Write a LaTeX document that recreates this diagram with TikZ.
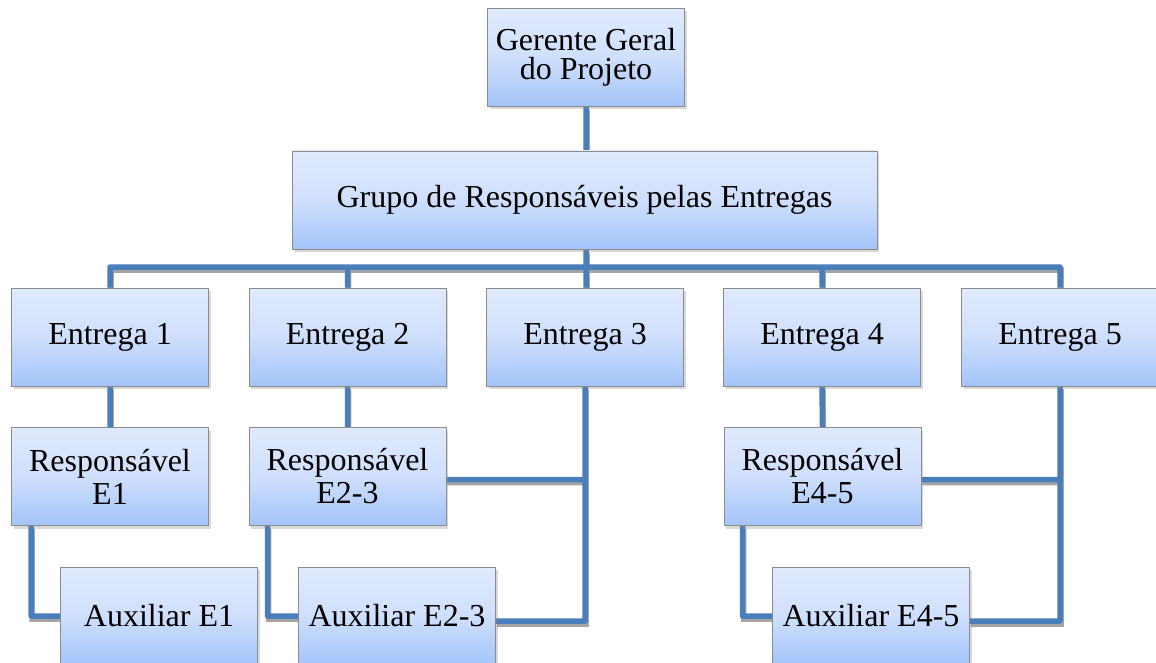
\documentclass[tikz,border=0pt]{standalone}
\usepackage{fontspec}
\setmainfont{Liberation Serif}
\usetikzlibrary{shadows,calc}
\pgfdeclarelayer{background}
\pgfsetlayers{background,main}
\definecolor{boxtop}{RGB}{224,234,253}
\definecolor{boxmid}{RGB}{207,223,252}
\definecolor{boxbot}{RGB}{163,196,250}
\definecolor{boxline}{RGB}{140,140,140}
\definecolor{conn}{RGB}{74,126,187}
\definecolor{connshadow}{RGB}{165,165,165}
\begin{document}
\begin{tikzpicture}[x=1pt,y=-1pt,
  orgbox/.style={draw=boxline, line width=0.8pt, top color=boxtop, bottom color=boxbot, middle color=boxmid,
    minimum width=197pt, minimum height=98pt, inner sep=0pt, align=center,
    font=\fontsize{32}{31}\selectfont,
    drop shadow={shadow xshift=2pt, shadow yshift=-3pt, opacity=0.3}},
  twoline/.style={font=\fontsize{32}{33}\selectfont},
  link/.style={draw=conn, line width=5.5pt, line join=round,
    preaction={draw=connshadow, line width=5.5pt, transform canvas={shift={(1pt,-3pt)}}}}]
\useasboundingbox (0,0) rectangle (1156,663);
% boxes
\node[orgbox, font=\fontsize{32}{29}\selectfont] (ger) at (586,57.5) {Gerente Geral\\do Projeto};
\node[orgbox, minimum width=585pt] (grp) at (584.5,200) {Grupo de Responsáveis pelas Entregas};
\node[orgbox] (e1) at (110,337) {Entrega 1};
\node[orgbox] (e2) at (347.5,337) {Entrega 2};
\node[orgbox] (e3) at (585,337) {Entrega 3};
\node[orgbox] (e4) at (822,337) {Entrega 4};
\node[orgbox] (e5) at (1060,337) {Entrega 5};
\node[orgbox, twoline] (r1) at (110,476.5) {Responsável\\E1};
\node[orgbox, twoline] (r2) at (347.5,476.5) {Responsável\\E2-3};
\node[orgbox, twoline] (r4) at (822.5,476.5) {Responsável\\E4-5};
\node[orgbox] (a1) at (159,616) {Auxiliar E1};
\node[orgbox] (a2) at (397,616) {Auxiliar E2-3};
\node[orgbox] (a4) at (871,616) {Auxiliar E4-5};
% connectors
\coordinate (bus) at (586,267);
\coordinate (r2e) at ([yshift=-3pt]r2.east);
\coordinate (r4e) at ([yshift=-3pt]r4.east);
\coordinate (a2e) at ([yshift=-5pt]a2.east);
\coordinate (a4e) at ([yshift=-5pt]a4.east);
\begin{pgfonlayer}{background}
\draw[link]
  (ger.south) -- (ger.south |- grp.north)
  (ger.south |- grp.south) -- (bus)
  (e1.north) |- (bus) -| (e5.north)
  (e2.north) |- (bus)
  (e4.north) |- (bus)
  (bus) -- (bus |- e3.north)
  (e1.south) -- (r1.north)
  (e2.south) -- (r2.north)
  (e4.south) -- (r4.north)
  ([xshift=20pt]r1.south west) |- (a1.west)
  ([xshift=19pt]r2.south west) |- (a2.west)
  ([xshift=19pt]r4.south west) |- (a4.west)
  (e3.south) |- (a2e)
  (r2e) -- (r2e -| e3.south)
  (e5.south) |- (a4e)
  (r4e) -- (r4e -| e5.south);
\end{pgfonlayer}
\end{tikzpicture}
\end{document}
